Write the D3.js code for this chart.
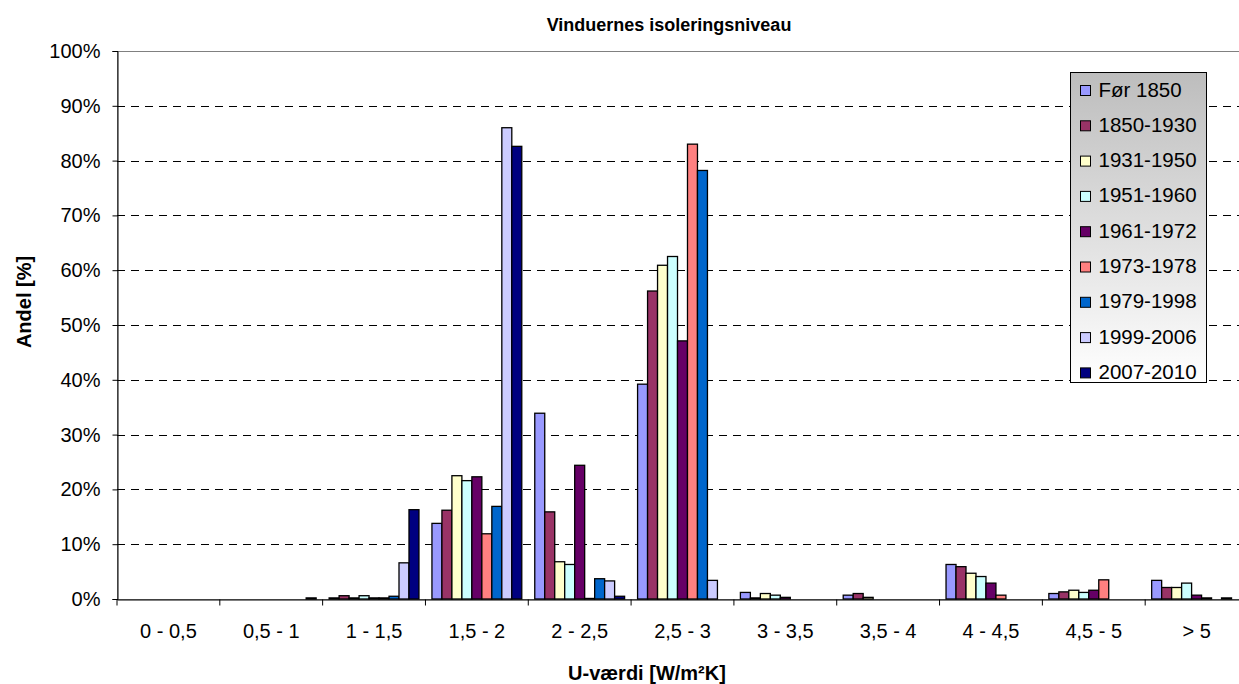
<!doctype html>
<html lang="da">

<head>
  <meta charset="utf-8">
  <title>Vinduernes isoleringsniveau</title>
  <script src="https://cdn.jsdelivr.net/npm/d3@7"></script>
  <style>
    body {
      margin: 0;
      background: #fff;
    }

    svg text {
      font-family: "Liberation Sans", Arial, sans-serif;
      fill: #000;
    }
  </style>
</head>

<body>
  <div id="chart"></div>

  <script>
    // categories on the x axis (U-value intervals)
    var categories = ["0 - 0,5", "0,5 - 1", "1 - 1,5", "1,5 - 2", "2 - 2,5", "2,5 - 3",
      "3 - 3,5", "3,5 - 4", "4 - 4,5", "4,5 - 5", "> 5"];

    // series = building periods
    var series = ["Før 1850", "1850-1930", "1931-1950", "1951-1960", "1961-1972",
      "1973-1978", "1979-1998", "1999-2006", "2007-2010"];

    var colors = ["#9999ff", "#993366", "#ffffcc", "#ccffff", "#660066",
      "#ff8080", "#0066cc", "#ccccff", "#000080"];

    // share in % per category, one array per series
    var foer1850 = [0, 0, 0.2, 13.8, 33.9, 39.2, 1.2, 0.7, 6.3, 1.0, 3.4];
    var p1850_1930 = [0, 0, 0.6, 16.2, 15.9, 56.2, 0.2, 1.0, 5.9, 1.3, 2.1];
    var p1931_1950 = [0, 0, 0.2, 22.5, 6.8, 60.9, 1.0, 0.3, 4.7, 1.6, 2.1];
    var p1951_1960 = [0, 0, 0.6, 21.6, 6.3, 62.5, 0.7, 0, 4.1, 1.2, 2.9];
    var p1961_1972 = [0, 0, 0.2, 22.3, 24.4, 47.1, 0.3, 0, 2.9, 1.6, 0.7];
    var p1973_1978 = [0, 0, 0.2, 11.9, 0.1, 83.0, 0, 0, 0.7, 3.5, 0.2];
    var p1979_1998 = [0, 0, 0.5, 16.9, 3.7, 78.2, 0, 0, 0, 0, 0];
    var p1999_2006 = [0, 0, 6.6, 86.0, 3.3, 3.4, 0, 0, 0, 0, 0.2];
    var p2007_2010 = [0, 0.2, 16.3, 82.6, 0.5, 0, 0, 0, 0, 0, 0];

    var values = [foer1850, p1850_1930, p1931_1950, p1951_1960, p1961_1972,
      p1973_1978, p1979_1998, p1999_2006, p2007_2010];

    var yTicks = [0, 10, 20, 30, 40, 50, 60, 70, 80, 90, 100];

    // flat table for the bars
    var data = [];
    series.forEach(function (s, i) {
      categories.forEach(function (c, j) {
        data.push({ serie: s, idx: i, cat: c, value: values[i][j] });
      });
    });

    var W = 1239, H = 684;
    // plot area (the right part runs past the picture, like in the original)
    var plotL = 117, plotT = 51, plotB = 599, plotR = 1248;

    var svg = d3.select("#chart")
      .append("svg")
      .attr("width", W)
      .attr("height", H);

    var x = d3.scaleBand()
      .domain(categories)
      .range([plotL, plotR])
      .padding(0);

    var x1 = d3.scaleBand()
      .domain(series)
      .range([0, x.bandwidth()])
      .paddingInner(0)
      .paddingOuter(0.65);

    var y = d3.scaleLinear()
      .domain([0, 100])
      .range([plotB, plotT]);

    // plot area border (grey)
    svg.append("rect")
      .attr("x", plotL + 0.5)
      .attr("y", plotT + 0.5)
      .attr("width", plotR - plotL)
      .attr("height", plotB - plotT)
      .style("fill", "none")
      .style("stroke", "#808080");

    // dashed gridlines
    svg.append("g")
      .selectAll("line")
      .data(yTicks.filter(function (d) { return d > 0 && d < 100; }))
      .enter()
      .append("line")
      .attr("x1", plotL)
      .attr("x2", plotR)
      .attr("y1", function (d) { return Math.round(y(d)) + 0.5; })
      .attr("y2", function (d) { return Math.round(y(d)) + 0.5; })
      .style("stroke", "#000")
      .style("stroke-dasharray", "8,6");

    // bars
    svg.append("g")
      .selectAll("rect")
      .data(data.filter(function (d) { return d.value > 0; }))
      .enter()
      .append("rect")
      .attr("x", function (d) { return x(d.cat) + x1(d.serie); })
      .attr("y", function (d) { return y(d.value); })
      .attr("width", x1.bandwidth())
      .attr("height", function (d) { return plotB - y(d.value); })
      .style("fill", function (d) { return colors[d.idx]; })
      .style("stroke", "#000")
      .style("stroke-width", 1.3);

    // Y axis
    var yAxis = svg.append("g")
      .attr("transform", "translate(" + (plotL + 0.5) + ",0)")
      .call(d3.axisLeft(y).tickValues(yTicks).tickSize(5).tickPadding(12)
        .tickFormat(function (d) { return d + "%"; }));
    yAxis.selectAll("text").style("font-size", "20px");

    // X axis with ticks between the categories
    var xAxis = svg.append("g")
      .attr("transform", "translate(0," + (plotB + 0.5) + ")")
      .call(d3.axisBottom(x).tickSize(0).tickPadding(24));
    xAxis.selectAll("text").style("font-size", "20px");
    xAxis.selectAll(".tick")
      .append("line")
      .attr("x1", -x.bandwidth() / 2)
      .attr("x2", -x.bandwidth() / 2)
      .attr("y1", 0)
      .attr("y2", 6)
      .style("stroke", "#000");
    svg.selectAll(".domain").style("stroke", "#000");
    svg.selectAll(".tick line").style("stroke", "#000");

    // titles
    svg.append("text")
      .attr("x", 669)
      .attr("y", 31)
      .attr("text-anchor", "middle")
      .style("font-size", "18px")
      .style("font-weight", "bold")
      .text("Vinduernes isoleringsniveau");

    svg.append("text")
      .attr("x", 647)
      .attr("y", 680)
      .attr("text-anchor", "middle")
      .style("font-size", "20px")
      .style("font-weight", "bold")
      .text("U-værdi [W/m²K]");

    svg.append("text")
      .attr("transform", "translate(31,302) rotate(-90)")
      .attr("text-anchor", "middle")
      .style("font-size", "20px")
      .style("font-weight", "bold")
      .text("Andel [%]");

    // legend with grey-to-white gradient
    var grad = svg.append("defs")
      .append("linearGradient")
      .attr("id", "legendGrad")
      .attr("x1", 0).attr("y1", 0)
      .attr("x2", 0).attr("y2", 1);
    grad.append("stop").attr("offset", "0%").attr("stop-color", "#bdbdbd");
    grad.append("stop").attr("offset", "100%").attr("stop-color", "#ffffff");

    var legend = svg.append("g")
      .attr("transform", "translate(1070.5,72.5)");

    legend.append("rect")
      .attr("width", 136)
      .attr("height", 310)
      .style("fill", "url(#legendGrad)")
      .style("stroke", "#000");

    var item = legend.selectAll(".item")
      .data(series)
      .enter()
      .append("g")
      .attr("class", "item")
      .attr("transform", function (d, i) { return "translate(0," + (i * 35.3) + ")"; });

    item.append("rect")
      .attr("x", 10)
      .attr("y", 13)
      .attr("width", 10)
      .attr("height", 10)
      .style("fill", function (d, i) { return colors[i]; })
      .style("stroke", "#000");

    item.append("text")
      .attr("x", 28)
      .attr("y", 24)
      .style("font-size", "20.5px")
      .text(function (d) { return d; });
  </script>
</body>

</html>
